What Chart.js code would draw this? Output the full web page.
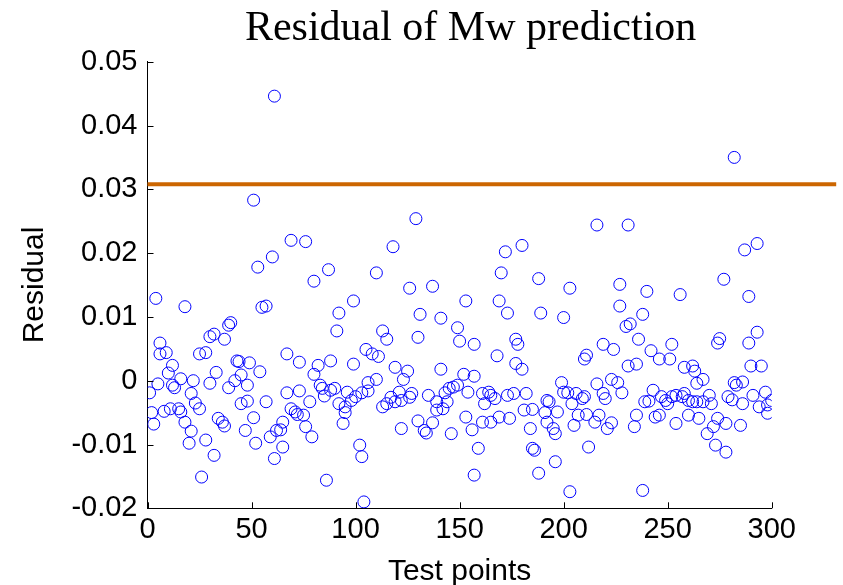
<!DOCTYPE html>
<html>
<head>
<meta charset="utf-8">
<title>Residual of Mw prediction</title>
<script src="https://cdn.jsdelivr.net/npm/chart.js@4.4.1/dist/chart.umd.min.js"></script>
<style>
  html, body { margin: 0; padding: 0; background: #ffffff; }
  #wrap { width: 843px; height: 585px; position: relative; }
</style>
</head>
<body>
<div id="wrap"><canvas id="residualChart"></canvas></div>
<script>
// ---- labels ----
const chartTitle = 'Residual of Mw prediction';
const xAxisLabel = 'Test points';
const yAxisLabel = 'Residual';
const xTickLabels = ['0', '50', '100', '150', '200', '250', '300'];
const yTickLabels = ['-0.02', '-0.01', '0', '0.01', '0.02', '0.03', '0.04', '0.05'];

// ---- residual of each test point ----
const testPoint = [
  1, 2, 3, 4, 5, 6, 6, 8, 9, 10, 11, 12, 12, 13, 15, 16, 16, 18, 18, 20,
  21, 21, 22, 23, 25, 25, 26, 28, 28, 30, 30, 32, 32, 33, 34, 36, 37, 37, 39, 39,
  40, 42, 43, 44, 45, 45, 47, 48, 48, 49, 51, 51, 52, 53, 54, 55, 57, 57, 59, 60,
  61, 61, 62, 64, 65, 65, 67, 67, 69, 69, 71, 72, 73, 73, 75, 76, 76, 78, 79, 80,
  80, 82, 83, 84, 85, 86, 87, 88, 88, 90, 91, 92, 92, 94, 95, 95, 96, 98, 99, 99,
  100, 102, 103, 103, 104, 105, 106, 106, 108, 110, 110, 111, 113, 113, 115, 115, 117, 118, 119, 119,
  121, 122, 122, 123, 125, 126, 126, 127, 129, 130, 130, 131, 133, 134, 135, 137, 137, 139, 139, 141,
  141, 142, 143, 144, 145, 146, 147, 149, 149, 150, 152, 153, 153, 154, 156, 157, 157, 157, 159, 161,
  161, 162, 164, 165, 165, 167, 168, 169, 169, 170, 172, 173, 173, 174, 176, 177, 177, 178, 180, 180,
  181, 182, 184, 185, 185, 186, 188, 188, 189, 191, 192, 192, 193, 195, 196, 196, 197, 199, 200, 200,
  202, 203, 203, 204, 205, 206, 207, 209, 210, 210, 211, 211, 212, 215, 216, 216, 217, 219, 219, 220,
  221, 223, 223, 224, 226, 227, 227, 228, 230, 231, 231, 232, 234, 235, 235, 236, 238, 238, 239, 240,
  241, 242, 243, 244, 246, 246, 247, 249, 250, 251, 252, 252, 254, 254, 256, 257, 258, 258, 260, 260,
  262, 262, 263, 264, 264, 265, 267, 267, 269, 270, 271, 272, 273, 274, 274, 275, 277, 278, 278, 279,
  281, 282, 282, 283, 285, 286, 286, 287, 289, 289, 290, 291, 293, 293, 294, 295, 297, 298, 298, 300
];
const residual = [
  -0.0019, -0.0050, -0.0068, 0.0129, -0.0005, 0.0059, 0.0042, -0.0048, 0.0044, 0.0012,
  -0.0044, -0.0007, 0.0024, -0.0011, -0.0044, -0.0049, 0.0003, -0.0065, 0.0116, -0.0098,
  -0.0079, -0.0020, 0.0000, -0.0035, 0.0042, -0.0044, -0.0151, -0.0093, 0.0044, 0.0069,
  -0.0004, 0.0073, -0.0117, 0.0013, -0.0059, -0.0065, -0.0071, 0.0065, -0.0011, 0.0087,
  0.0091, 0.0000, 0.0031, 0.0030, 0.0009, -0.0036, -0.0078, -0.0007, -0.0032, 0.0028,
  0.0283, -0.0058, -0.0098, 0.0178, 0.0014, 0.0115, 0.0117, -0.0033, -0.0088, 0.0194,
  -0.0122, 0.0446, -0.0078, -0.0077, -0.0104, -0.0065, 0.0042, -0.0019, 0.0220, -0.0044,
  -0.0049, -0.0053, -0.0016, 0.0029, -0.0054, -0.0072, 0.0218, -0.0033, -0.0088, 0.0010,
  0.0156, 0.0024, -0.0007, -0.0012, -0.0024, -0.0156, 0.0174, -0.0015, 0.0031, -0.0012,
  0.0078, -0.0036, 0.0106, -0.0067, -0.0041, -0.0050, -0.0018, -0.0031, 0.0026, 0.0125,
  -0.0025, -0.0101, -0.0119, -0.0019, -0.0190, 0.0049, -0.0016, -0.0003, 0.0042, 0.0169,
  0.0002, 0.0038, 0.0078, -0.0041, 0.0065, -0.0036, -0.0026, 0.0210, 0.0021, -0.0033,
  -0.0018, -0.0075, -0.0031, 0.0002, 0.0015, 0.0145, -0.0026, -0.0020, 0.0254, 0.0068,
  -0.0063, 0.0104, -0.0078, -0.0082, -0.0023, -0.0066, 0.0148, -0.0033, -0.0046, 0.0018,
  0.0098, -0.0044, -0.0019, -0.0033, -0.0012, -0.0083, -0.0010, 0.0083, -0.0007, 0.0062,
  0.0010, -0.0057, 0.0125, -0.0018, -0.0077, 0.0007, 0.0057, -0.0148, -0.0106, -0.0020,
  -0.0065, -0.0036, -0.0018, -0.0023, -0.0065, -0.0028, 0.0039, -0.0057, 0.0125, 0.0169,
  0.0202, 0.0106, -0.0023, -0.0059, -0.0020, 0.0065, 0.0027, 0.0057, 0.0018, 0.0212,
  -0.0046, -0.0020, -0.0075, -0.0045, -0.0106, -0.0109, 0.0160, -0.0145, 0.0106, -0.0050,
  -0.0031, -0.0065, -0.0033, -0.0075, -0.0083, -0.0127, -0.0049, -0.0003, -0.0018, 0.0099,
  -0.0019, -0.0174, 0.0145, -0.0036, -0.0070, -0.0020, -0.0054, -0.0028, 0.0034, -0.0025,
  0.0040, -0.0053, -0.0104, -0.0065, -0.0005, 0.0244, -0.0054, 0.0057, -0.0020, -0.0028,
  -0.0075, -0.0066, 0.0002, 0.0049, -0.0003, 0.0151, 0.0117, -0.0019, 0.0085, 0.0244,
  0.0023, 0.0089, -0.0072, 0.0026, -0.0054, 0.0065, -0.0172, 0.0104, -0.0033, 0.0140,
  -0.0032, 0.0047, -0.0015, -0.0057, 0.0034, -0.0054, -0.0025, -0.0031, -0.0036, 0.0034,
  0.0057, -0.0025, -0.0023, -0.0067, 0.0135, -0.0025, 0.0021, -0.0020, -0.0031, -0.0054,
  0.0023, -0.0033, 0.0015, -0.0033, -0.0004, -0.0059, 0.0002, -0.0033, -0.0083, -0.0023,
  -0.0036, -0.0072, -0.0101, -0.0059, 0.0059, 0.0066, 0.0159, -0.0067, -0.0112, -0.0025,
  -0.0030, -0.0003, 0.0350, -0.0007, -0.0070, -0.0036, -0.0002, 0.0205, 0.0059, 0.0132,
  0.0023, -0.0023, 0.0215, 0.0076, -0.0041, 0.0023, -0.0018, -0.0051, -0.0038, -0.0031
];

// ---- threshold line ----
const limitX = [0, 331];
const limitY = [0.0308, 0.0308];

const residualPoints = testPoint.map((t, i) => ({ x: t, y: residual[i] }));
const limitPoints = limitX.map((t, i) => ({ x: t, y: limitY[i] }));

// Short tick marks pointing into the plot, on the left and bottom axes.
const innerTicks = {
  id: 'innerTicks',
  afterDraw(chart) {
    const { ctx, chartArea, scales } = chart;
    const len = 6;
    ctx.save();
    ctx.strokeStyle = '#000000';
    ctx.lineWidth = 1;
    ctx.beginPath();
    scales.x.ticks.forEach(t => {
      const px = Math.round(scales.x.getPixelForValue(t.value)) + 0.5;
      ctx.moveTo(px, chartArea.bottom);
      ctx.lineTo(px, chartArea.bottom - len);
    });
    scales.y.ticks.forEach(t => {
      const py = Math.round(scales.y.getPixelForValue(t.value)) + 0.5;
      ctx.moveTo(chartArea.left, py);
      ctx.lineTo(chartArea.left + len, py);
    });
    ctx.stroke();
    ctx.restore();
  }
};

// Serif title above the axes.
const plotTitle = {
  id: 'plotTitle',
  afterDraw(chart) {
    const { ctx, chartArea } = chart;
    ctx.save();
    ctx.font = '42px "Liberation Serif", "Times New Roman", serif';
    ctx.fillStyle = '#000000';
    ctx.textAlign = 'center';
    ctx.textBaseline = 'alphabetic';
    ctx.fillText(chartTitle, (chartArea.left + chartArea.right) / 2 + 11, 39.5);
    ctx.restore();
  }
};

Chart.defaults.font.family = '"Liberation Sans", Arial, sans-serif';
Chart.defaults.color = '#000000';

new Chart(document.getElementById('residualChart'), {
  type: 'scatter',
  data: {
    datasets: [
      {
        type: 'line',
        label: 'limit',
        data: limitPoints,
        borderColor: '#cc6600',
        borderWidth: 4,
        pointRadius: 0,
        fill: false,
        clip: false
      },
      {
        label: yAxisLabel,
        data: residualPoints,
        borderColor: '#0000ff',
        backgroundColor: 'rgba(0,0,0,0)',
        borderWidth: 1,
        pointRadius: 6,
        pointStyle: 'circle'
      }
    ]
  },
  options: {
    responsive: true,
    maintainAspectRatio: false,
    animation: false,
    events: [],
    layout: { padding: { top: 61.7, left: 0, right: 71.3, bottom: 0 } },
    plugins: {
      legend: { display: false },
      tooltip: { enabled: false },
      title: { display: false }
    },
    scales: {
      x: {
        type: 'linear',
        min: 0,
        max: 300,
        grid: { display: false, drawTicks: false },
        border: { display: true, color: '#000000', width: 1 },
        ticks: {
          stepSize: 50,
          padding: 4,
          font: { size: 29 },
          maxRotation: 0,
          callback: (v, i) => xTickLabels[i]
        },
        title: {
          display: true,
          text: xAxisLabel,
          font: { size: 30, lineHeight: 1 },
          padding: { top: 0, bottom: -2 }
        },
        afterFit(scale) { scale.height = 76.7; }
      },
      y: {
        type: 'linear',
        min: -0.02,
        max: 0.05,
        grid: { display: false, drawTicks: false },
        border: { display: true, color: '#000000', width: 1 },
        ticks: {
          stepSize: 0.01,
          padding: 10,
          font: { size: 29 },
          callback: (v, i) => yTickLabels[i]
        },
        title: {
          display: true,
          text: yAxisLabel,
          font: { size: 30, lineHeight: 1.2 },
          padding: { top: 17, bottom: 0 }
        },
        afterFit(scale) { scale.width = 147.5; }
      }
    }
  },
  plugins: [innerTicks, plotTitle]
});
</script>
</body>
</html>
